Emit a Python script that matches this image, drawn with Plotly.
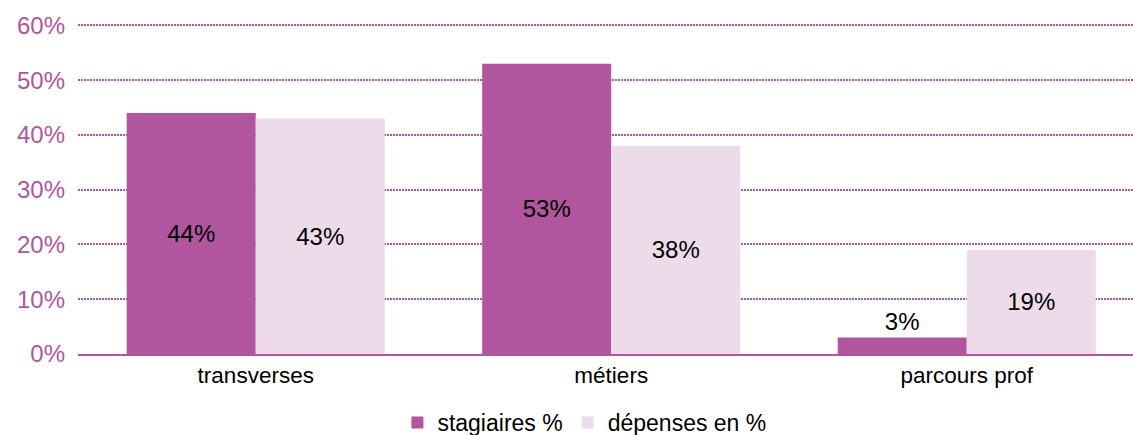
import plotly.graph_objects as go

# Répartition des stagiaires et des dépenses par type de formation
categories = ["transverses", "métiers", "parcours prof"]
stagiaires_pct = [44, 53, 3]
depenses_pct = [43, 38, 19]
y_ticks = [0, 10, 20, 30, 40, 50, 60]
y_tick_labels = ["0%", "10%", "20%", "30%", "40%", "50%", "60%"]

PURPLE = "#b0559e"
LIGHT = "#eedbea"
FONT = "Liberation Sans, Arial, sans-serif"

fig = go.Figure()
fig.add_trace(go.Bar(
    name="stagiaires %",
    x=categories,
    y=stagiaires_pct,
    marker=dict(color=PURPLE, line=dict(width=0)),
    text=[f"{v}%" for v in stagiaires_pct],
    textposition=["inside", "inside", "outside"],
    insidetextanchor="middle",
    textfont=dict(color="black", size=24, family=FONT),
    cliponaxis=False,
))
fig.add_trace(go.Bar(
    name="dépenses en %",
    x=categories,
    y=depenses_pct,
    marker=dict(color=LIGHT, line=dict(width=0)),
    text=[f"{v}%" for v in depenses_pct],
    textposition="inside",
    insidetextanchor="middle",
    textfont=dict(color="black", size=24, family=FONT),
))

fig.update_layout(
    width=1133,
    height=435,
    margin=dict(l=78, r=0, t=19.5, b=81, autoexpand=False),
    paper_bgcolor="white",
    plot_bgcolor="white",
    barmode="group",
    bargap=0.274,
    bargroupgap=0,
    font=dict(family=FONT, size=22, color="black"),
    showlegend=True,
    legend=dict(
        orientation="h",
        x=0.48,
        xanchor="center",
        y=-0.205,
        yanchor="middle",
        font=dict(size=23, color="black", family=FONT),
        itemwidth=30,
        traceorder="normal",
    ),
    xaxis=dict(
        range=[-0.5, 2.4677],
        automargin=False,
        showline=True,
        linecolor=PURPLE,
        linewidth=2,
        showgrid=False,
        ticks="",
        tickfont=dict(size=22.5, color="black", family=FONT),
    ),
    yaxis=dict(
        range=[0, 61],
        automargin=False,
        tickvals=y_ticks,
        ticktext=y_tick_labels,
        showgrid=True,
        gridcolor=PURPLE,
        griddash="1.5px,1.5px",
        gridwidth=1.5,
        zeroline=False,
        showline=False,
        ticks="",
        ticklabelstandoff=12,
        tickfont=dict(size=24, color=PURPLE, family=FONT),
    ),
)

fig.write_html("out.html")
